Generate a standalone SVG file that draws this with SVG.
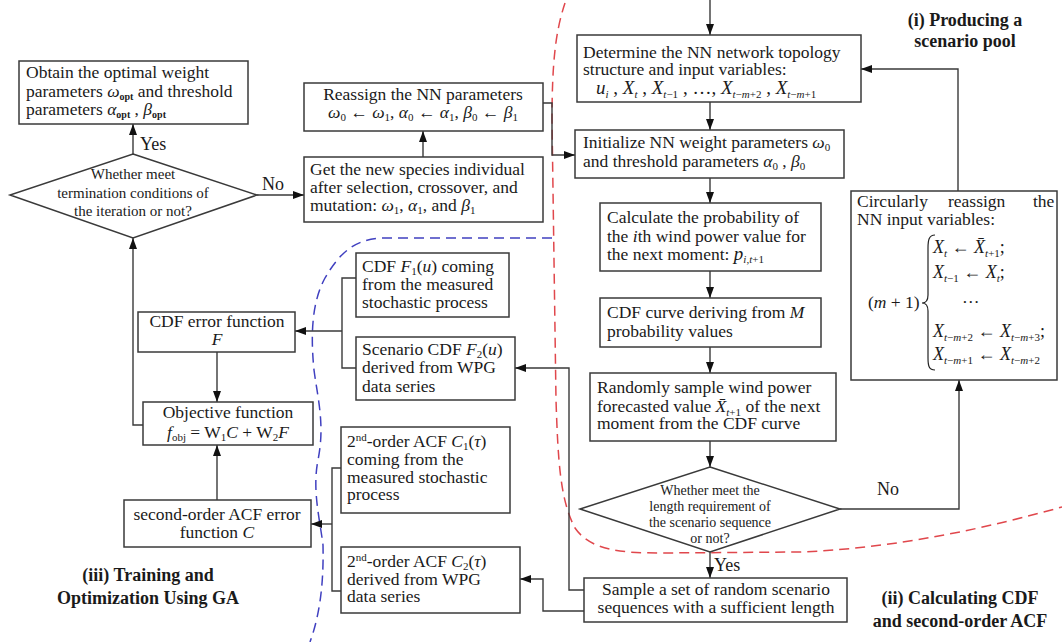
<svg xmlns="http://www.w3.org/2000/svg" width="1062" height="642" viewBox="0 0 1062 642">
<style>
text{font-family:"Liberation Serif","Times New Roman",serif;font-size:17.5px;fill:#1a1a1a}
.d{font-size:15px}
.d2{font-size:14px}
.b{font-weight:bold;font-size:18px}
.i{font-style:italic}
.s{font-size:11px}
.sb{font-size:10px;font-weight:bold}
.m{text-anchor:middle}
.box{fill:#fff;stroke:#3a3a3a;stroke-width:1.5}
.ln{fill:none;stroke:#3a3a3a;stroke-width:1.4}
.red{fill:none;stroke:#e0474c;stroke-width:1.5;stroke-dasharray:10 6}
.blue{fill:none;stroke:#4040c0;stroke-width:1.5;stroke-dasharray:10 6}
</style>
<defs>
<marker id="ah" viewBox="0 0 11 8" refX="11" refY="4" markerWidth="11" markerHeight="8" orient="auto" markerUnits="userSpaceOnUse"><path d="M0,0 L11,4 L0,8 z" fill="#111"/></marker>
</defs>

<g id="regions">
<path class="red" d="M565,3 C556,30 552,60 552,120 L556,400 C558,460 560,500 575,528 C590,550 620,553 660,553 L800,552 C900,548 990,527 1062,507"/>
<path class="blue" d="M552,238 L380,238 C355,240 340,252 325,278 C313,300 310,330 314,370 C318,400 325,425 318,460 C312,490 320,520 323,545 C324,590 318,620 310,642"/>
</g>

<g id="connectors">
<line class="ln" x1="133" y1="154" x2="133" y2="124" marker-end="url(#ah)"/>
<line class="ln" x1="257" y1="195" x2="304" y2="195" marker-end="url(#ah)"/>
<line class="ln" x1="423" y1="157" x2="423" y2="131" marker-end="url(#ah)"/>
<polyline class="ln" points="543,103 552,103 552,155 575,155" marker-end="url(#ah)"/>
<line class="ln" x1="710" y1="0" x2="710" y2="35" marker-end="url(#ah)"/>
<line class="ln" x1="710" y1="102" x2="710" y2="130" marker-end="url(#ah)"/>
<line class="ln" x1="710" y1="178" x2="710" y2="203" marker-end="url(#ah)"/>
<line class="ln" x1="710" y1="271" x2="710" y2="298" marker-end="url(#ah)"/>
<line class="ln" x1="710" y1="347" x2="710" y2="373" marker-end="url(#ah)"/>
<line class="ln" x1="710" y1="441" x2="710" y2="467" marker-end="url(#ah)"/>
<line class="ln" x1="710" y1="552" x2="710" y2="578" marker-end="url(#ah)"/>
<polyline class="ln" points="840,509 959,509 959,380" marker-end="url(#ah)"/>
<polyline class="ln" points="958,191 958,69 861,69" marker-end="url(#ah)"/>
<polyline class="ln" points="356,278 342,278 342,368 356,368"/>
<line class="ln" x1="342" y1="331" x2="295" y2="331" marker-end="url(#ah)"/>
<polyline class="ln" points="584,590 569,590 569,368 515,368" marker-end="url(#ah)"/>
<polyline class="ln" points="584,611 543,611 543,579 520,579" marker-end="url(#ah)"/>
<polyline class="ln" points="341,468 332,468 332,591 341,591"/>
<line class="ln" x1="332" y1="524" x2="311" y2="524" marker-end="url(#ah)"/>
<polyline class="ln" points="143,425 133,425 133,238" marker-end="url(#ah)"/>
<line class="ln" x1="217" y1="352" x2="217" y2="402" marker-end="url(#ah)"/>
<line class="ln" x1="217" y1="500" x2="217" y2="445" marker-end="url(#ah)"/>
<text x="140" y="150" style="font-size:18px">Yes</text>
<text x="262" y="190" style="font-size:18px">No</text>
<text x="714" y="571" style="font-size:18px">Yes</text>
<text x="877" y="495" style="font-size:18px">No</text>
</g>

<g id="obtain">
<rect class="box" x="19" y="61" width="229" height="63"/>
<text x="26" y="78">Obtain the optimal weight</text>
<text x="26" y="97">parameters <tspan class="i">ω</tspan><tspan class="sb" dy="3">opt</tspan><tspan dy="-3"> and threshold</tspan></text>
<text x="26" y="115">parameters <tspan class="i">α</tspan><tspan class="sb" dy="3">opt</tspan><tspan dy="-3"> , </tspan><tspan class="i">β</tspan><tspan class="sb" dy="3">opt</tspan></text>
</g>

<g id="decide1">
<polygon class="box" points="133,154 257,195 133,238 10,195"/>
<text class="d m" x="133" y="179">Whether meet</text>
<text class="d m" x="133" y="198">termination conditions of</text>
<text class="d m" x="133" y="216">the iteration or not?</text>
</g>

<g id="reassign">
<rect class="box" x="304" y="83" width="239" height="48"/>
<text class="m" x="423" y="100">Reassign the NN parameters</text>
<text class="m" x="423" y="118"><tspan class="i">ω</tspan><tspan class="s" dy="3">0</tspan><tspan dy="-3"> ← </tspan><tspan class="i">ω</tspan><tspan class="s" dy="3">1</tspan><tspan dy="-3">, </tspan><tspan class="i">α</tspan><tspan class="s" dy="3">0</tspan><tspan dy="-3"> ← </tspan><tspan class="i">α</tspan><tspan class="s" dy="3">1</tspan><tspan dy="-3">, </tspan><tspan class="i">β</tspan><tspan class="s" dy="3">0</tspan><tspan dy="-3"> ← </tspan><tspan class="i">β</tspan><tspan class="s" dy="3">1</tspan></text>
</g>

<g id="get">
<rect class="box" x="304" y="157" width="239" height="65"/>
<text x="310" y="175">Get the new species individual</text>
<text x="310" y="193">after selection, crossover, and</text>
<text x="310" y="211">mutation: <tspan class="i">ω</tspan><tspan class="s" dy="3">1</tspan><tspan dy="-3">, </tspan><tspan class="i">α</tspan><tspan class="s" dy="3">1</tspan><tspan dy="-3">, and </tspan><tspan class="i">β</tspan><tspan class="s" dy="3">1</tspan></text>
</g>

<g id="determine">
<rect class="box" x="577" y="35" width="284" height="67"/>
<text x="583" y="58">Determine the NN network topology</text>
<text x="583" y="75">structure and input variables:</text>
<text x="596" y="94" style="font-size:19px"><tspan class="i">u</tspan><tspan class="s i" dy="4">i</tspan><tspan dy="-4"> , </tspan><tspan class="i">X</tspan><tspan class="s i" dy="4">t</tspan><tspan dy="-4"> , </tspan><tspan class="i">X</tspan><tspan class="s" dy="4"><tspan class="i">t</tspan>−1</tspan><tspan dy="-4"> , …, </tspan><tspan class="i">X</tspan><tspan class="s" dy="4"><tspan class="i">t</tspan>−<tspan class="i">m</tspan>+2</tspan><tspan dy="-4"> , </tspan><tspan class="i">X</tspan><tspan class="s" dy="4"><tspan class="i">t</tspan>−<tspan class="i">m</tspan>+1</tspan></text>
</g>

<g id="initialize">
<rect class="box" x="575" y="130" width="269" height="48"/>
<text x="583" y="148">Initialize NN weight parameters <tspan class="i">ω</tspan><tspan class="s" dy="3">0</tspan></text>
<text x="583" y="167">and threshold parameters <tspan class="i">α</tspan><tspan class="s" dy="3">0</tspan><tspan dy="-3"> , </tspan><tspan class="i">β</tspan><tspan class="s" dy="3">0</tspan></text>
</g>

<g id="calculate">
<rect class="box" x="600" y="203" width="221" height="68"/>
<text x="607" y="223">Calculate the probability of</text>
<text x="607" y="242">the <tspan class="i">i</tspan>th wind power value for</text>
<text x="607" y="260">the next moment: <tspan class="i" style="font-size:19px">p</tspan><tspan class="s" dy="3"><tspan class="i">i</tspan>,<tspan class="i">t</tspan>+1</tspan></text>
</g>

<g id="cdfcurve">
<rect class="box" x="600" y="298" width="221" height="49"/>
<text x="607" y="318">CDF curve deriving from <tspan class="i">M</tspan></text>
<text x="607" y="337">probability values</text>
</g>

<g id="randomly">
<rect class="box" x="590" y="373" width="246" height="68"/>
<text x="597" y="393">Randomly sample wind power</text>
<text x="597" y="412">forecasted value <tspan class="i">X̄</tspan><tspan class="s" dy="4"><tspan class="i">t</tspan>+1</tspan><tspan dy="-4"> of the next</tspan></text>
<text x="597" y="429">moment from the CDF curve</text>
</g>

<g id="decide2">
<polygon class="box" points="710,467 840,509 710,552 580,509"/>
<text class="d2 m" x="710" y="495">Whether meet the</text>
<text class="d2 m" x="710" y="511">length requirement of</text>
<text class="d2 m" x="710" y="527">the scenario sequence</text>
<text class="d2 m" x="710" y="543">or not?</text>
</g>

<g id="sample">
<rect class="box" x="584" y="578" width="263" height="44"/>
<text class="m" x="716" y="595">Sample a set of random scenario</text>
<text class="m" x="716" y="613">sequences with a sufficient length</text>
</g>

<g id="circular">
<rect class="box" x="851" y="191" width="206" height="189"/>
<text x="857" y="207">Circularly</text>
<text x="948" y="207">reassign</text>
<text x="1033" y="207">the</text>
<text x="857" y="225">NN input variables:</text>
<path d="M935,235 C929,235 928,240 928,248 L928,295 C928,300 926,303 922,303 C926,303 928,306 928,311 L928,358 C928,366 929,370 935,370" fill="none" stroke="#222" stroke-width="1.2"/>
<text x="868" y="308">(<tspan class="i">m</tspan> + 1)</text>
<text x="933" y="253" style="font-size:18px"><tspan class="i">X</tspan><tspan class="s i" dy="4">t</tspan><tspan dy="-4"> ← </tspan><tspan class="i">X̄</tspan><tspan class="s" dy="4"><tspan class="i">t</tspan>+1</tspan><tspan dy="-4">;</tspan></text>
<text x="933" y="278" style="font-size:18px"><tspan class="i">X</tspan><tspan class="s" dy="4"><tspan class="i">t</tspan>−1</tspan><tspan dy="-4"> ← </tspan><tspan class="i">X</tspan><tspan class="s i" dy="4">t</tspan><tspan dy="-4">;</tspan></text>
<text x="962" y="303">…</text>
<text x="933" y="337" style="font-size:18px"><tspan class="i">X</tspan><tspan class="s" dy="4"><tspan class="i">t</tspan>−<tspan class="i">m</tspan>+2</tspan><tspan dy="-4"> ← </tspan><tspan class="i">X</tspan><tspan class="s" dy="4"><tspan class="i">t</tspan>−<tspan class="i">m</tspan>+3</tspan><tspan dy="-4">;</tspan></text>
<text x="933" y="360" style="font-size:18px"><tspan class="i">X</tspan><tspan class="s" dy="4"><tspan class="i">t</tspan>−<tspan class="i">m</tspan>+1</tspan><tspan dy="-4"> ← </tspan><tspan class="i">X</tspan><tspan class="s" dy="4"><tspan class="i">t</tspan>−<tspan class="i">m</tspan>+2</tspan></text>
</g>

<g id="cdferror">
<rect class="box" x="138" y="312" width="157" height="40"/>
<text class="m" x="217" y="327">CDF error function</text>
<text class="m i" x="217" y="345">F</text>
</g>

<g id="objective">
<rect class="box" x="143" y="402" width="170" height="43"/>
<text class="m" x="228" y="418">Objective function</text>
<text class="m" x="228" y="438"><tspan class="i">f</tspan><tspan class="s" dy="3">obj</tspan><tspan dy="-3"> = W</tspan><tspan class="s" dy="3">1</tspan><tspan class="i" dy="-3">C</tspan> + W<tspan class="s" dy="3">2</tspan><tspan class="i" dy="-3">F</tspan></text>
</g>

<g id="acferror">
<rect class="box" x="124" y="500" width="187" height="47"/>
<text class="m" x="217" y="520">second-order ACF error</text>
<text class="m" x="217" y="538">function  <tspan class="i">C</tspan></text>
</g>

<g id="cdf1">
<rect class="box" x="356" y="253" width="153" height="64"/>
<text x="362" y="272">CDF <tspan class="i">F</tspan><tspan class="s" dy="3">1</tspan><tspan dy="-3">(</tspan><tspan class="i">u</tspan>)  coming</text>
<text x="362" y="290">from the measured</text>
<text x="362" y="308">stochastic process</text>
</g>

<g id="cdf2">
<rect class="box" x="356" y="337" width="159" height="63"/>
<text x="362" y="355">Scenario CDF <tspan class="i">F</tspan><tspan class="s" dy="3">2</tspan><tspan dy="-3">(</tspan><tspan class="i">u</tspan>)</text>
<text x="362" y="373">derived from WPG</text>
<text x="362" y="392">data series</text>
</g>

<g id="acf1">
<rect class="box" x="341" y="427" width="169" height="86"/>
<text x="347" y="447">2<tspan class="s" dy="-6">nd</tspan><tspan dy="6">-order ACF  </tspan><tspan class="i">C</tspan><tspan class="s" dy="3">1</tspan><tspan dy="-3">(</tspan><tspan class="i">τ</tspan>)</text>
<text x="347" y="465">coming from the</text>
<text x="347" y="483">measured stochastic</text>
<text x="347" y="500">process</text>
</g>

<g id="acf2">
<rect class="box" x="341" y="547" width="179" height="66"/>
<text x="347" y="567">2<tspan class="s" dy="-6">nd</tspan><tspan dy="6">-order ACF  </tspan><tspan class="i">C</tspan><tspan class="s" dy="3">2</tspan><tspan dy="-3">(</tspan><tspan class="i">τ</tspan>)</text>
<text x="347" y="585">derived from WPG</text>
<text x="347" y="602">data series</text>
</g>

<g id="labels">
<text class="b m" x="965" y="26">(i) Producing a</text>
<text class="b m" x="965" y="47">scenario pool</text>
<text class="b m" x="960" y="604">(ii) Calculating CDF</text>
<text class="b m" x="960" y="627">and second-order ACF</text>
<text class="b m" x="148" y="581">(iii) Training and</text>
<text class="b m" x="148" y="604">Optimization Using GA</text>
</g>
</svg>
